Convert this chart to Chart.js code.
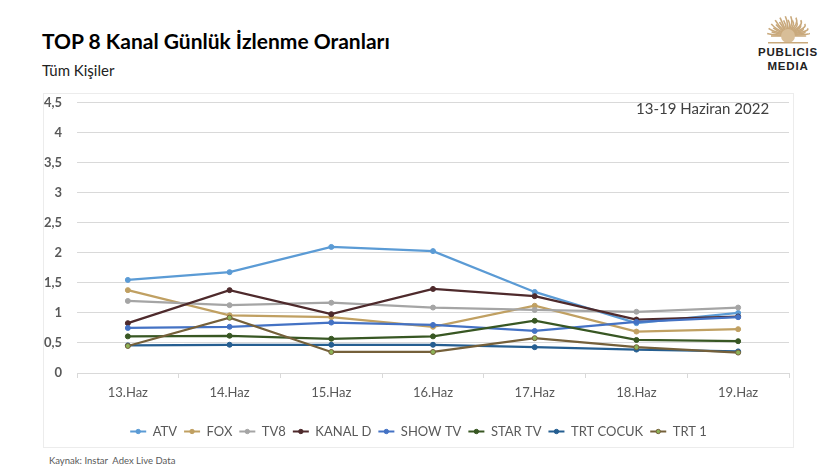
<!DOCTYPE html>
<html lang="tr">
<head>
<meta charset="utf-8">
<title>TOP 8 Kanal Günlük İzlenme Oranları</title>
<script src="https://cdn.jsdelivr.net/npm/chart.js@4.4.1/dist/chart.umd.min.js"></script>
<style>
  html, body { margin: 0; padding: 0; background: #fff; }
  body { width: 840px; height: 469px; position: relative; overflow: hidden; font-family: Lato, "Noto Sans", sans-serif; }
  .baslik { position: absolute; left: 42px; top: 28px; font-size: 21px; font-weight: bold; color: #000; }
  .altbaslik { position: absolute; left: 42px; top: 61px; font-size: 15px; color: #222; }
  .cerceve { position: absolute; left: 43px; top: 93px; width: 751px; height: 355px; border: 1px solid #ECECEC; box-sizing: border-box; }
  /* tuval, y ekseni etiket payı için çerçeveden 13px yukarıda başlar */
  .grafik { position: absolute; left: 43px; top: 80px; width: 751px; height: 368px; }
  .tarih { position: absolute; left: 636px; top: 99px; font-size: 15px; color: #404040; }
  .kaynak { position: absolute; left: 49px; top: 455px; font-size: 9.5px; color: #595959; }
  .logo { position: absolute; left: 752px; top: 9px; width: 72px; text-align: center; font-family: "Liberation Sans", Arial, sans-serif; font-weight: bold; font-size: 11.5px; letter-spacing: 0.8px; line-height: 14px; color: #222; }
  .logo svg { display: block; margin: 0 auto 1px auto; }
</style>
</head>
<body>
<div class="baslik">TOP 8 Kanal Günlük İzlenme Oranları</div>
<div class="altbaslik">Tüm Kişiler</div>
<div class="logo">
  <svg id="gunes" width="46" height="35" viewBox="0 0 46 35"></svg>
  PUBLICIS<br>MEDIA
</div>
<div class="cerceve"></div>
<div class="grafik"><canvas id="grafik-izlenme"></canvas></div>
<div class="tarih">13-19 Haziran 2022</div>
<div class="kaynak">Kaynak: Instar &nbsp;Adex Live Data</div>

<script>
// Veriler
const gunler = ['13.Haz', '14.Haz', '15.Haz', '16.Haz', '17.Haz', '18.Haz', '19.Haz'];
const kanallar = ['ATV', 'FOX', 'TV8', 'KANAL D', 'SHOW TV', 'STAR TV', 'TRT COCUK', 'TRT 1'];

const atv      = [1.55, 1.68, 2.10, 2.03, 1.35, 0.83, 1.00];
const fox      = [1.38, 0.96, 0.93, 0.77, 1.12, 0.69, 0.73];
const tv8      = [1.20, 1.13, 1.17, 1.09, 1.05, 1.02, 1.09];
const kanalD   = [0.83, 1.38, 0.98, 1.40, 1.28, 0.89, 0.94];
const showTv   = [0.75, 0.77, 0.84, 0.80, 0.70, 0.85, 0.93];
const starTv   = [0.61, 0.62, 0.57, 0.61, 0.87, 0.55, 0.53];
const trtCocuk = [0.46, 0.47, 0.47, 0.47, 0.43, 0.39, 0.36];
const trt1     = [0.45, 0.92, 0.35, 0.35, 0.58, 0.43, 0.34];

const seriler = [atv, fox, tv8, kanalD, showTv, starTv, trtCocuk, trt1];
const renkler = ['#5B9BD5', '#C0A062', '#A5A5A5', '#4E2A2C', '#4472C4', '#385723', '#255E91', '#75603A'];
const noktaRenkleri = ['#5B9BD5', '#C0A062', '#A5A5A5', '#4E2A2C', '#4472C4', '#385723', '#255E91', '#8DB357'];

// Logo güneşi (süs)
(function () {
    const svg = document.getElementById('gunes');
    let s = '';
    for (let i = 0; i < 25; i++) {
        const a = Math.PI + (i / 24) * Math.PI;
        const r = 17 + (i % 2) * 4;
        const x1 = 23 + Math.cos(a) * 6, y1 = 27 + Math.sin(a) * 6;
        const x2 = 23 + Math.cos(a) * r, y2 = 27 + Math.sin(a) * r * 0.95;
        s += `<path d="M${x1.toFixed(1)} ${y1.toFixed(1)} Q${(x2 + 3).toFixed(1)} ${((y1 + y2) / 2).toFixed(1)} ${x2.toFixed(1)} ${y2.toFixed(1)}" stroke="#C9A97C" stroke-width="1.6" fill="none"/>`;
    }
    s += '<circle cx="23" cy="27" r="7" fill="#D8BE98"/>';
    s += '<rect x="3" y="33" width="40" height="1.5" fill="#C9A97C"/>';
    svg.innerHTML = s;
})();

// Lejantta çizginin ortasına nokta
const lejantNokta = {
    id: 'lejantNokta',
    afterDraw(chart) {
        const lg = chart.legend;
        if (!lg || !lg.legendHitBoxes) return;
        const ctx = chart.ctx;
        lg.legendHitBoxes.forEach((h, j) => {
            const i = lg.legendItems[j].datasetIndex;
            ctx.save();
            ctx.beginPath();
            ctx.arc(h.left + 8, h.top + h.height / 2, 2.2, 0, Math.PI * 2);
            ctx.fillStyle = noktaRenkleri[i];
            ctx.strokeStyle = renkler[i];
            ctx.lineWidth = 1;
            ctx.fill();
            ctx.stroke();
            ctx.restore();
        });
    }
};

const ctx = document.getElementById('grafik-izlenme').getContext('2d');
new Chart(ctx, {
    type: 'line',
    data: {
        labels: gunler,
        datasets: kanallar.map((k, i) => ({
            label: k,
            data: seriler[i],
            borderColor: renkler[i],
            backgroundColor: renkler[i],
            pointBackgroundColor: noktaRenkleri[i],
            pointBorderColor: renkler[i],
            pointBorderWidth: 1,
            pointRadius: 2.5,
            borderWidth: 2.25,
            tension: 0,
            order: 7 - i
        }))
    },
    options: {
        responsive: true,
        maintainAspectRatio: false,
        animation: false,
        layout: { padding: { top: 0, right: 0, bottom: 0, left: 0 } },
        scales: {
            x: {
                offset: true,
                afterFit: s => { s.height = 45; },
                grid: { offset: true, drawOnChartArea: false, tickLength: 5, color: '#D9D9D9' },
                border: { color: '#D9D9D9' },
                ticks: { color: '#595959', padding: 7, font: { family: 'Lato', size: 13 } }
            },
            y: {
                min: 0,
                max: 4.5,
                afterFit: s => { s.width = 34; },
                ticks: {
                    stepSize: 0.5,
                    color: '#595959',
                    padding: 15,
                    font: { family: 'Lato', size: 13, weight: 'bold' },
                    callback: v => String(v).replace('.', ',')
                },
                grid: { color: '#D9D9D9', drawTicks: false },
                border: { display: false }
            }
        },
        plugins: {
            legend: {
                position: 'bottom',
                labels: {
                    boxWidth: 16,
                    boxHeight: 2,
                    padding: 7,
                    color: '#595959',
                    font: { family: 'Lato', size: 13 },
                    sort: (a, b) => a.datasetIndex - b.datasetIndex,
                    generateLabels: chart => Chart.defaults.plugins.legend.labels.generateLabels(chart).map(l => Object.assign(l, { lineWidth: 0 }))
                }
            },
            tooltip: { enabled: false }
        }
    },
    plugins: [lejantNokta]
});
</script>
</body>
</html>
